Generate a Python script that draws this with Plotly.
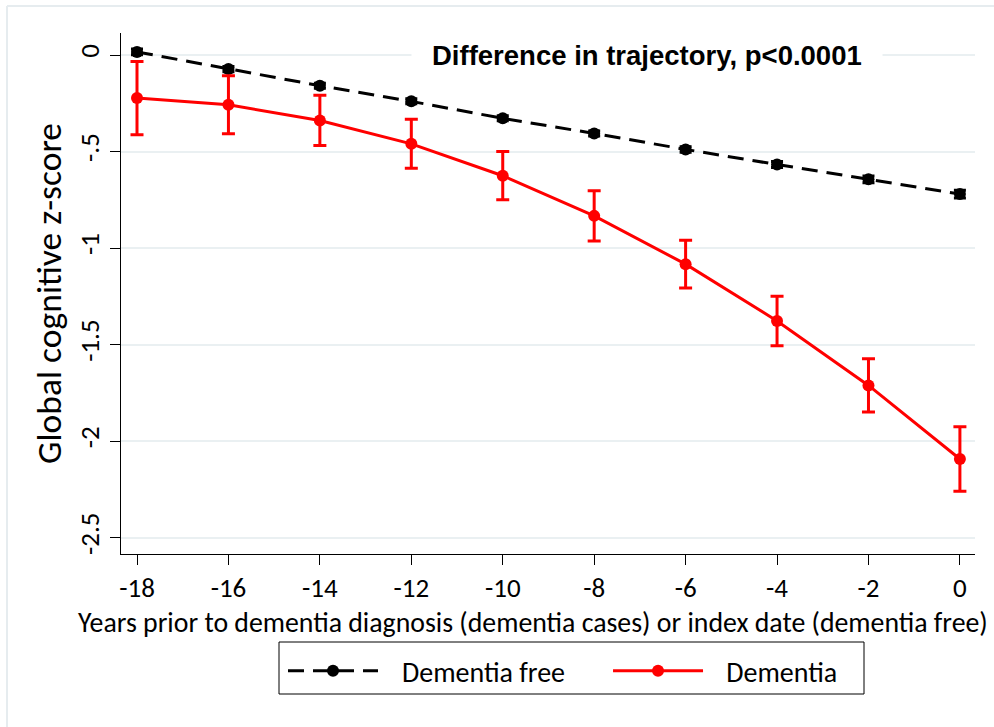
import plotly.graph_objects as go

years = [-18, -16, -14, -12, -10, -8, -6, -4, -2, 0]
xtick_text = ["-18", "-16", "-14", "-12", "-10", "-8", "-6", "-4", "-2", "0"]
free_mean = [0.016, -0.073, -0.159, -0.240, -0.328, -0.406, -0.489, -0.567, -0.644, -0.720]
free_ci = [0.015, 0.014, 0.013, 0.013, 0.013, 0.013, 0.014, 0.015, 0.017, 0.02]
dem_mean = [-0.223, -0.258, -0.339, -0.460, -0.625, -0.833, -1.083, -1.377, -1.711, -2.092]
dem_ci = [0.19, 0.15, 0.13, 0.127, 0.125, 0.13, 0.124, 0.128, 0.138, 0.167]
ytick_vals = [0, -0.5, -1, -1.5, -2, -2.5]
ytick_text = ["0", "-.5", "-1", "-1.5", "-2", "-2.5"]
x_title = "Years prior to dementia diagnosis (dementia cases) or index date (dementia free)"
y_title = "Global cognitive z-score"
note = "Difference in trajectory, p<0.0001"

CAL = "Carlito, Lato, sans-serif"
NB = "\u00a0"

fig = go.Figure()
fig.add_trace(go.Scatter(
    x=years, y=free_mean, name=NB * 3 + "Dementia free" + NB * 6, mode="lines+markers",
    line=dict(color="black", width=3, dash="16px,9px"),
    marker=dict(color="black", size=12),
    error_y=dict(type="data", array=free_ci, color="black", thickness=3, width=6),
))
fig.add_trace(go.Scatter(
    x=years, y=dem_mean, name=NB * 2 + "\u2009Dementia", mode="lines+markers",
    line=dict(color="#ff0000", width=3),
    marker=dict(color="#ff0000", size=12),
    error_y=dict(type="data", array=dem_ci, color="#ff0000", thickness=3, width=6.5),
))

# plot area spans pixels x 121..975, y 33..554
def px_x(p):
    return (p - 121) / 854.0

def px_y(p):
    return (554 - p) / 521.0

fig.update_layout(
    width=994, height=727,
    margin=dict(l=121, r=19, t=33, b=173, autoexpand=False),
    paper_bgcolor="white", plot_bgcolor="white",
    showlegend=True,
    legend=dict(
        orientation="h", x=px_x(283), xanchor="left", y=px_y(646), yanchor="top",
        borderwidth=0, bgcolor="rgba(0,0,0,0)",
        font=dict(family=CAL, size=28, color="black"),
        itemwidth=90, traceorder="normal",
    ),
    xaxis=dict(
        range=[-18.35, 0.33], tickvals=years, ticktext=xtick_text, ticks="outside", ticklen=10,
        tickcolor="black", tickwidth=1, showline=True, linecolor="black", linewidth=1,
        showgrid=False, zeroline=False, automargin=False,
        tickfont=dict(family=CAL, size=27, color="black"),
    ),
    yaxis=dict(
        range=[-2.584, 0.114], tickvals=ytick_vals, ticktext=ytick_text, tickangle=-90,
        ticks="outside", ticklen=10, tickcolor="black", tickwidth=1,
        showline=True, linecolor="black", linewidth=1, automargin=False,
        showgrid=True, gridcolor="#eaf0f2", gridwidth=2, zeroline=False,
        tickfont=dict(family=CAL, size=27, color="black"),
        title=dict(text=y_title, font=dict(family=CAL, size=35.5, color="black"), standoff=0),
    ),
    annotations=[
        dict(
            text="<b>" + note.replace("<", "&lt;") + "</b>", xref="paper", yref="y",
            x=0.616, y=0, xanchor="center", yanchor="middle", showarrow=False,
            font=dict(family="Liberation Sans, Arial", size=27.5, color="black"),
            bgcolor="white", borderpad=20,
        ),
        dict(
            text=x_title, xref="paper", yref="paper", x=px_x(533), y=px_y(622),
            xanchor="center", yanchor="middle", showarrow=False,
            font=dict(family=CAL, size=27.8, color="black"),
        ),
    ],
    shapes=[
        dict(type="line", xref="paper", yref="paper", x0=px_x(7), x1=1.2, y0=px_y(6), y1=px_y(6),
             line=dict(color="#e6ecef", width=2)),
        dict(type="line", xref="paper", yref="paper", x0=px_x(7), x1=px_x(7), y0=px_y(6), y1=-0.4,
             line=dict(color="#e6ecef", width=2)),
        dict(type="rect", xref="paper", yref="paper", x0=px_x(279), x1=px_x(864),
             y0=px_y(694), y1=px_y(642), line=dict(color="black", width=1)),
    ],
)

fig.write_html("out.html", config={"displayModeBar": False},
               post_script="document.body.style.margin='0px';")
